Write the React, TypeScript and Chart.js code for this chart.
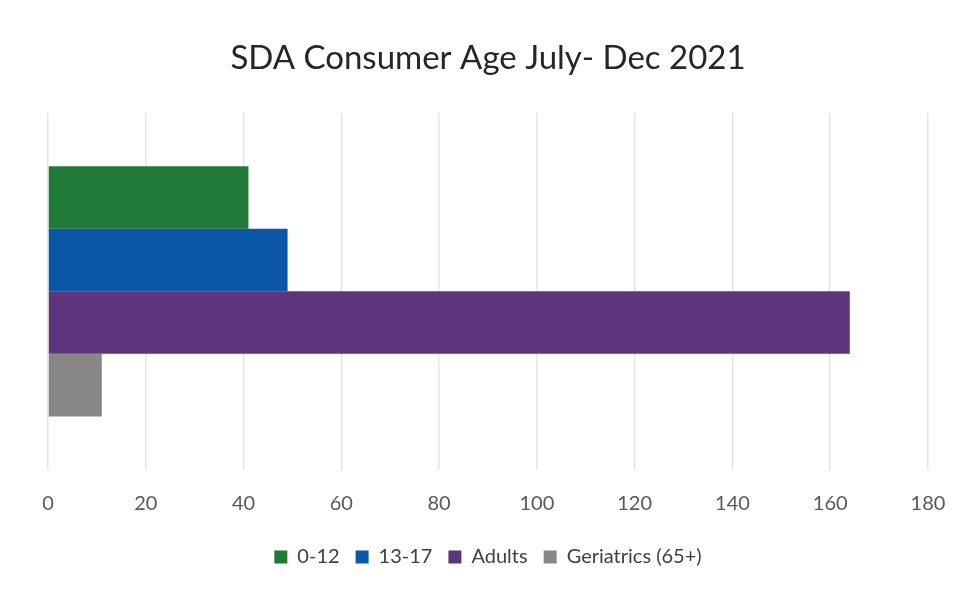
import React, { useEffect, useRef } from "react";
import { Chart, registerables } from "chart.js";

Chart.register(...registerables);

const categories = ["SDA"];
const seriesNames = ["0-12", "13-17", "Adults", "Geriatrics (65+)"];
const seriesValues = [[41], [49], [164], [11]];
const seriesColors = ["#1f7a38", "#0b56a6", "#5c357d", "#878787"];
const xTicks = { min: 0, max: 180, step: 20 };
const titleText = "SDA Consumer Age July- Dec 2021";

const FONT = "Lato, 'Open Sans', sans-serif";

export default function App() {
  const ref = useRef<HTMLCanvasElement | null>(null);
  useEffect(() => {
    document.body.style.margin = "0";
    const ctx = ref.current!;
    const chart = new Chart(ctx, {
      type: "bar",
      data: {
        labels: categories,
        datasets: seriesNames.map((n, i) => ({
          label: n,
          data: seriesValues[i],
          backgroundColor: seriesColors[i],
          borderWidth: 0,
          barPercentage: 1.0,
          categoryPercentage: 0.7,
        })),
      },
      options: {
        indexAxis: "y",
        animation: false,
        responsive: false,
        maintainAspectRatio: false,
        layout: { padding: { left: 48, right: 34, top: 0, bottom: 13 } },
        plugins: {
          tooltip: { enabled: false },
          title: {
            display: true,
            text: titleText,
            color: "#262626",
            font: { family: FONT, size: 33, weight: "normal" },
            padding: { top: 39, bottom: 34 },
          },
          legend: {
            position: "bottom",
            labels: {
              color: "#404040",
              font: { family: FONT, size: 20 },
              boxWidth: 13,
              boxHeight: 13,
              padding: 16,
            },
          },
        },
        scales: {
          x: {
            min: xTicks.min,
            max: xTicks.max,
            border: { display: false },
            grid: { color: "#e6e6e6", lineWidth: 1.5, drawTicks: false },
            ticks: {
              stepSize: xTicks.step,
              color: "#595959",
              padding: 22,
              font: { family: FONT, size: 20 },
            },
            afterFit: (s: any) => {
              s.height -= 7;
              s.paddingRight = 0;
              s.paddingLeft = 0;
            },
          },
          y: {
            display: false,
          },
        },
      },
    });
    return () => chart.destroy();
  }, []);
  return (
    <div style={{ position: "absolute", left: 0, top: 0, width: 962, height: 590, background: "#fff" }}>
      <canvas ref={ref} width={962} height={590} style={{ width: 962, height: 590 }} />
    </div>
  );
}
